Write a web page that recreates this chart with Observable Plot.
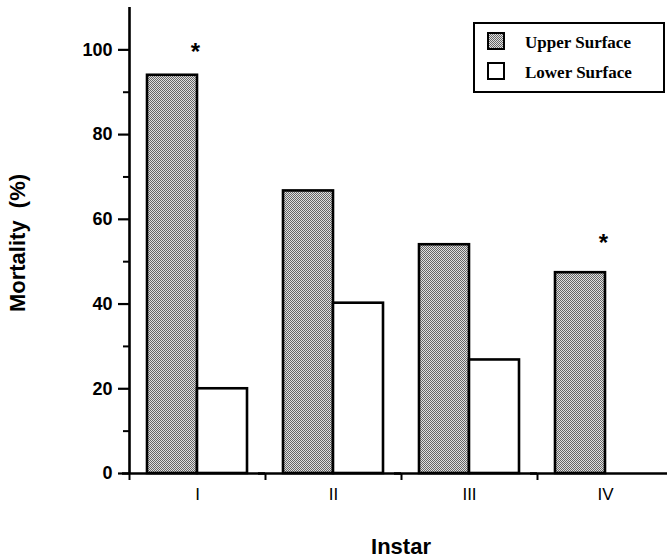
<!DOCTYPE html>
<html><head><meta charset="utf-8">
<script src="https://cdn.jsdelivr.net/npm/d3@7"></script>
<script src="https://cdn.jsdelivr.net/npm/@observablehq/plot@0.6"></script>
<style>html,body{margin:0;padding:0;background:#fff;overflow:hidden}</style>
</head><body><div id="chart"></div>
<script>
// ---- data ----
const instars = ["I", "II", "III", "IV"];
const surfaces = ["Upper Surface", "Lower Surface"];
const upperMortality = [94, 66.7, 54, 47.4];
const lowerMortality = [20, 40.2, 26.8, null];
const starY = [100.5, null, null, 55.4];          // significance asterisks
const yTicks = [0, 20, 40, 60, 80, 100];
const yMinorTicks = [10, 30, 50, 70, 90];
const yMax = 110;
const xTitle = "Instar";
const yTitle = "Mortality  (%)";

// ---- layout ----
const W = 667, H = 558, mL = 129, mR = -6, mT = 7, mB = 85;
const outerPad = 0.36;
const step = (W - mL - mR) / instars.length;
const bw = step / (2 + 2 * outerPad);
const edgeDx = -(0.5 + outerPad) * bw;

const rows = instars.flatMap((k, i) => [
  {instar: k, surface: surfaces[0], value: upperMortality[i]},
  {instar: k, surface: surfaces[1], value: lowerMortality[i]}
]).filter(d => d.value != null);
const stars = instars.map((k, i) => ({instar: k, y: starY[i]})).filter(d => d.y != null);

const plot = Plot.plot({
  width: W, height: H, marginLeft: mL, marginRight: mR, marginTop: mT, marginBottom: mB,
  style: {fontFamily: "'Liberation Sans', Arial, sans-serif", background: "white", color: "black"},
  fx: {domain: instars, padding: 0},
  x: {domain: surfaces, paddingInner: 0, paddingOuter: outerPad, axis: null},
  y: {domain: [0, yMax]},
  color: {domain: surfaces, range: ["url(#stipple)", "white"]},
  marks: [
    Plot.barY(rows, {fx: "instar", x: "surface", y: "value", fill: "surface", stroke: "black", strokeWidth: 2.6}),
    Plot.ruleY([0], {strokeWidth: 2.6, insetLeft: -7}),
    Plot.ruleX(instars, {fx: d => d, x: () => surfaces[0], dx: edgeDx, y1: 0, y2: 0, insetBottom: -7, strokeWidth: 2}),
    Plot.ruleX([instars[0]], {fx: d => d, x: () => surfaces[0], dx: edgeDx, y1: 0, y2: yMax, strokeWidth: 2.6}),
    Plot.axisY({ticks: yTicks, tickSize: 11, tickPadding: 6, strokeWidth: 2.2, fontSize: 18, fontWeight: "bold", label: null}),
    Plot.axisY({ticks: yMinorTicks, tickSize: 6, tickFormat: () => "", strokeWidth: 2, label: null}),
    Plot.axisFx({anchor: "bottom", tickSize: 0, tickPadding: 14, fontSize: 17, label: null}),
    Plot.text(stars, {fx: "instar", x: () => surfaces[0], y: "y", dx: bw / 2 - 2, dy: 5, text: () => "*", fontSize: 24, fontWeight: "bold"})
  ]
});

const svg = d3.select(plot);
const defs = svg.insert("defs", ":first-child");
const pat = defs.append("pattern").attr("id", "stipple").attr("width", 2).attr("height", 2).attr("patternUnits", "userSpaceOnUse");
pat.append("rect").attr("width", 2).attr("height", 2).attr("fill", "#e0e0e0");
pat.append("rect").attr("width", 1).attr("height", 1).attr("fill", "#666666");
pat.append("rect").attr("x", 1).attr("y", 1).attr("width", 1).attr("height", 1).attr("fill", "#666666");

const yScale = plot.scale("y");
const fxScale = plot.scale("fx");
const yMid = (yScale.range[0] + yScale.range[1]) / 2;
const xMid = (fxScale.range[0] + fxScale.range[1]) / 2;

svg.append("text")
  .attr("transform", `translate(25,${yMid + 3}) rotate(-90)`)
  .attr("text-anchor", "middle")
  .attr("font-family", "'Liberation Sans', Arial, sans-serif")
  .attr("font-weight", "bold").attr("font-size", 22)
  .attr("xml:space", "preserve").style("white-space", "pre")
  .text(yTitle);

svg.append("text")
  .attr("x", xMid).attr("y", 554)
  .attr("text-anchor", "middle")
  .attr("font-family", "'Liberation Sans', Arial, sans-serif")
  .attr("font-weight", "bold").attr("font-size", 22)
  .text(xTitle);

// legend
const color = plot.scale("color");
const lg = svg.append("g");
lg.append("rect").attr("x", 474).attr("y", 23).attr("width", 190).attr("height", 69)
  .attr("fill", "white").attr("stroke", "black").attr("stroke-width", 2);
surfaces.forEach((s, i) => {
  const yy = 33 + i * 30;
  lg.append("rect").attr("x", 488).attr("y", yy).attr("width", 16).attr("height", 16)
    .attr("fill", color.apply(s)).attr("stroke", "black").attr("stroke-width", 2);
  lg.append("text").attr("x", 525).attr("y", yy + 15)
    .attr("text-anchor", "start")
    .attr("font-family", "'Liberation Serif', 'Times New Roman', serif")
    .attr("font-weight", "bold").attr("font-size", 17)
    .text(s);
});

document.getElementById("chart").appendChild(plot);
</script>
</body></html>
